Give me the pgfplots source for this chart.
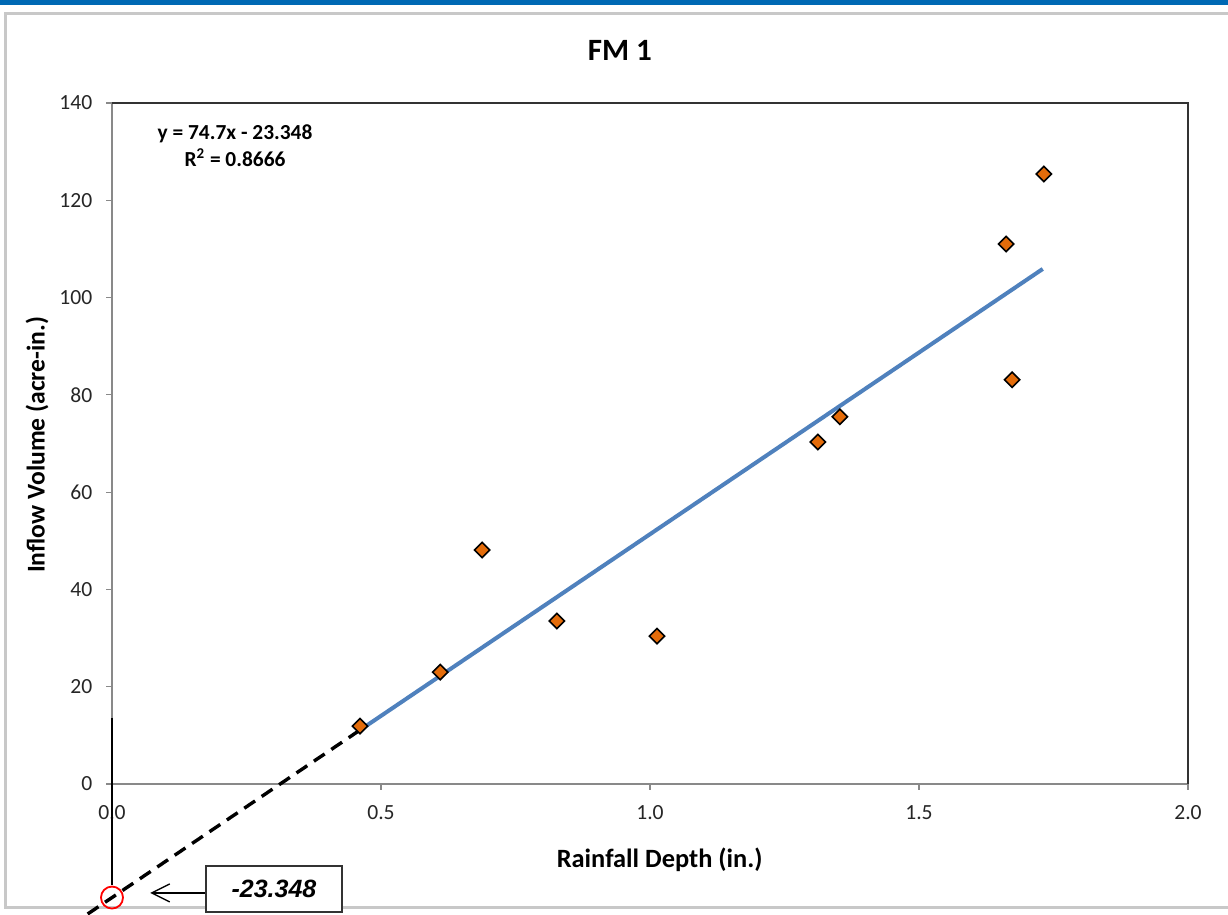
\documentclass[border=0pt]{standalone}
\usepackage{pgfplots}
\pgfplotsset{compat=1.18}
\usepackage{fontspec}
\setmainfont{Carlito}
\newfontfamily\arialfont{Liberation Sans}
\usetikzlibrary{arrows.meta}
\definecolor{topblue}{HTML}{0069B4}
\definecolor{framegray}{HTML}{C8C8C8}
\definecolor{spinegray}{HTML}{898989}
\definecolor{trendblue}{HTML}{4F81BD}
\definecolor{markorange}{HTML}{E46C0A}
\begin{document}
\begin{tikzpicture}
\clip (0,0) rectangle (614pt,457.5pt);
\fill[white] (0,0) rectangle (614pt,457.5pt);
\fill[topblue] (0,455pt) rectangle (614pt,457.5pt);
\draw[framegray, line width=1.5pt] (614pt,450.5pt) -- (2.5pt,450.5pt) -- (2.5pt,3.5pt) -- (614pt,3.5pt);
\begin{axis}[
  at={(56pt,65.5pt)}, anchor=south west,
  scale only axis, width=538pt, height=340.5pt,
  xmin=0, xmax=2, ymin=0, ymax=140,
  xtick={0,0.5,1,1.5,2}, ytick={0,20,...,140},
  /pgf/number format/assume math mode=true,
  tick label style={font=\fontsize{10.8}{13}\selectfont, text=black!85},
  xticklabel style={yshift=-4.5pt},
  x tick label style={/pgf/number format/.cd,fixed,fixed zerofill,precision=1},
  yticklabel style={xshift=-3.5pt},
  tick align=outside, tick style={spinegray, line width=0.6pt},
  major tick length=2.8pt,
  xtick pos=bottom, ytick pos=left,
  axis line style={spinegray, line width=0.7pt},
  clip=false,
  title={FM 1},
  title style={font=\fontsize{15.5}{18}\selectfont\bfseries, at={(axis description cs:0.472,1.06)}, anchor=center},
  xlabel={Rainfall Depth (in.)},
  ylabel={Inflow Volume (acre-in.)},
  xlabel style={font=\fontsize{13.2}{15}\selectfont\bfseries, at={(axis description cs:0.509,-0.1116)}, anchor=center},
  ylabel style={font=\fontsize{12.8}{15}\selectfont\bfseries, at={(axis description cs:-0.0697,0.498)}, anchor=center, rotate=0},
]
\draw[black!80, line width=0.7pt] (rel axis cs:0,1) -- (rel axis cs:1,1) -- (rel axis cs:1,0);
% dashed extension of the trend line
\addplot[black, line width=1.7pt, dash pattern=on 6.5pt off 4pt] coordinates {(0.46,11.014) (-0.13,-33.06)};
% trend line
\addplot[trendblue, line width=2pt] coordinates {(0.46,11.014) (1.73,105.883)};
% data points
\addplot[only marks, mark=square*, mark size=2.7pt,
  mark options={rotate=45, fill=markorange, draw=black, line width=0.8pt}] coordinates {
  (0.461,11.9) (0.610,23.0) (0.688,48.1) (0.827,33.5) (1.013,30.4)
  (1.312,70.3) (1.353,75.5) (1.662,111.0) (1.673,83.1) (1.732,125.4)};
% vertical guide at x = 0
\addplot[black, line width=1pt] coordinates {(0,13.6) (0,-20.8)};
% intercept marker
\addplot[only marks, mark=o, mark size=5.5pt, mark options={red, line width=0.9pt}] coordinates {(0,-23.348)};
% equation
\node[align=center, font=\fontsize{10.7}{13.5}\selectfont\bfseries, anchor=center] at (axis cs:0.2286,131.2) {y = 74.7x - 23.348\\R\textsuperscript{2} = 0.8666};
% arrow and box
\draw[-{Straight Barb[length=9pt,width=9pt]}, black, line width=0.7pt] (axis cs:0.1747,-22.4) -- (axis cs:0.071,-22.4);
\draw[black!80, line width=0.8pt, fill=white] (axis cs:0.1747,-16.86) rectangle (axis cs:0.4275,-26.3);
\node[font=\arialfont\fontsize{12.5}{14}\selectfont\bfseries\itshape] at (axis cs:0.301,-21.6) {-23.348};
\end{axis}
\end{tikzpicture}
\end{document}
